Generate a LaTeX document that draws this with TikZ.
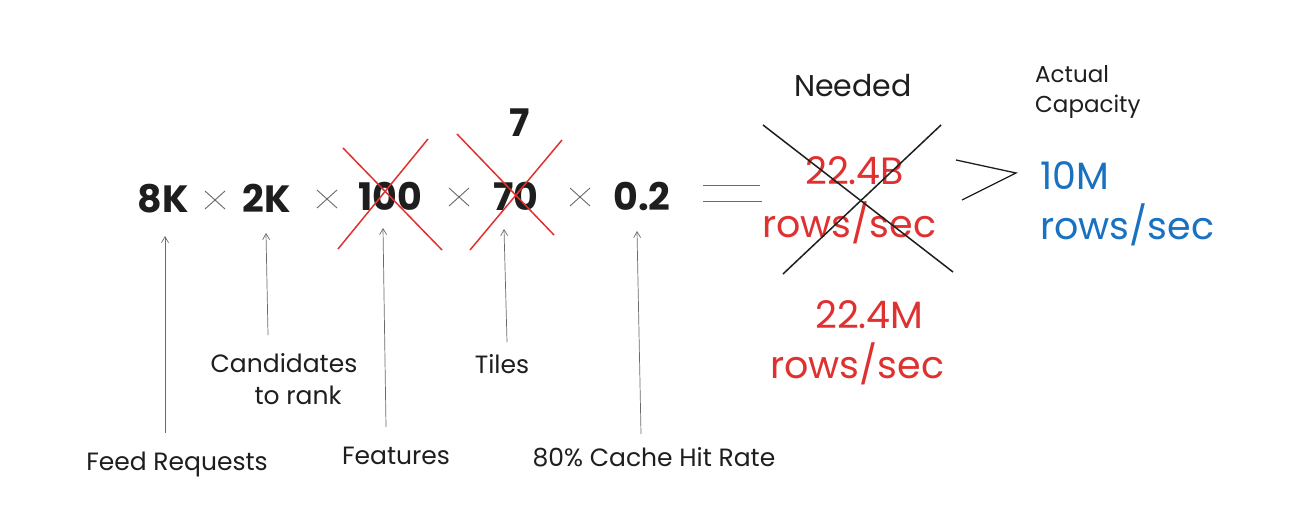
\documentclass[tikz,border=0pt]{standalone}
\usepackage{fontspec}
\setmainfont{Poppins}
\usetikzlibrary{arrows.meta}
\definecolor{exred}{HTML}{E03131}
\definecolor{exblue}{HTML}{1971C2}
\definecolor{exblack}{HTML}{1E1E1E}
\definecolor{exgray}{HTML}{6A6A6A}
\begin{document}
\begin{tikzpicture}[x=1pt,y=-1pt,
  num/.style={anchor=base,inner sep=0pt,text=exblack,font=\fontsize{38}{40}\selectfont\bfseries},
  timesl/.style={draw=exgray,line width=0.9pt},
  redbig/.style={anchor=base west,inner sep=0pt,text=exred,font=\fontsize{38}{40}\selectfont},
  bluebig/.style={anchor=base west,inner sep=0pt,text=exblue,font=\fontsize{38}{40}\selectfont},
  head/.style={anchor=base,inner sep=0pt,text=exblack,font=\fontsize{30}{30}\selectfont},
  small/.style={anchor=base west,inner sep=0pt,text=exblack,font=\fontsize{23}{24}\selectfont},
  lbl/.style={anchor=base,inner sep=0pt,text=exblack,font=\fontsize{25}{26}\selectfont},
  ptr/.style={draw=exgray,line width=0.7pt,-{Straight Barb[length=6pt,width=7pt]}},
  redx/.style={draw=exred,line width=1.5pt},
  blackx/.style={draw=exblack,line width=1.5pt},
  eqline/.style={draw=exgray,line width=1pt}
]
\useasboundingbox (0,0) rectangle (1300,510);
\fill[white] (0,0) rectangle (1300,510);

% factors
\node[num] (n8K) at (163,213) {8K};
\node[num] (n2K) at (267,213) {2K};
\node[num] (n100) at (390,211) {100};
\node[num] (n70) at (516,211) {70};
\node[num] (n7) at (520,137) {7};
\node[num] (n02) at (642,211) {0.2};

% multiplication signs
\coordinate (t1) at (215,200);
\coordinate (t2) at (327,199);
\coordinate (t3) at (459,197);
\coordinate (t4) at (580,197);
\foreach \t in {t1,t2,t3,t4}{
  \draw[timesl] (\t) ++(-10,-9) -- ++(20,18);
  \draw[timesl] (\t) ++(10,-9) -- ++(-20,18);
}

% crosses
\draw[redx] (343,148) -- (442,250);
\draw[redx] (428,139) -- (338,249);
\draw[redx] (457,134) -- (554,235);
\draw[redx] (562,140) -- (470,250);

% equals
\coordinate (e1a) at (703,186); \coordinate (e1b) at (760,186);
\coordinate (e2a) at (703,202); \coordinate (e2b) at (762,202);
\draw[eqline] (e1a) -- (e1b);
\draw[eqline] (e2a) -- (e2b);

% needed
\node[head] (needed) at (853,97) {Needed};
\node[redbig] (r1) at (805,185) {22.4B};
\node[redbig] (r2) at (762,238) {rows/sec};
\draw[blackx] (763,125) -- (953,272);
\draw[blackx] (941,125) -- (783,274);

% greater than
\coordinate (g1) at (956,160); \coordinate (g2) at (1016,173); \coordinate (g3) at (962,200);
\draw[blackx,line width=1.3pt] (g1) -- (g2) -- (g3);

% actual capacity
\node[small] (act) at (1035,83) {Actual};
\node[small] (cap) at (1035,113) {Capacity};
\node[bluebig] (b1) at (1040,190) {10M};
\node[bluebig] (b2) at (1040,240) {rows/sec};

% corrected
\node[redbig] (r3) at (815,328) {22.4M};
\node[redbig] (r4) at (770,378) {rows/sec};

% labels
\node[lbl] (feed) at (177,470) {Feed Requests};
\node[lbl] (cand) at (284,372) {Candidates};
\node[lbl] (rank) at (298,404) {to rank};
\node[lbl] (feat) at (396,464) {Features};
\node[lbl] (tiles) at (502,373) {Tiles};
\node[lbl] (cache) at (654,466) {80\% Cache Hit Rate};

% pointers
\coordinate (p1) at (165,433); \coordinate (q1) at (165,236);
\coordinate (p2) at (268,335); \coordinate (q2) at (266,233);
\coordinate (p3) at (386,427); \coordinate (q3) at (383,228);
\coordinate (p4) at (507,342); \coordinate (q4) at (504,229);
\coordinate (p5) at (641,434); \coordinate (q5) at (637,231);
\draw[ptr] (p1) -- (q1);
\draw[ptr] (p2) -- (q2);
\draw[ptr] (p3) -- (q3);
\draw[ptr] (p4) -- (q4);
\draw[ptr] (p5) -- (q5);
\end{tikzpicture}
\end{document}
